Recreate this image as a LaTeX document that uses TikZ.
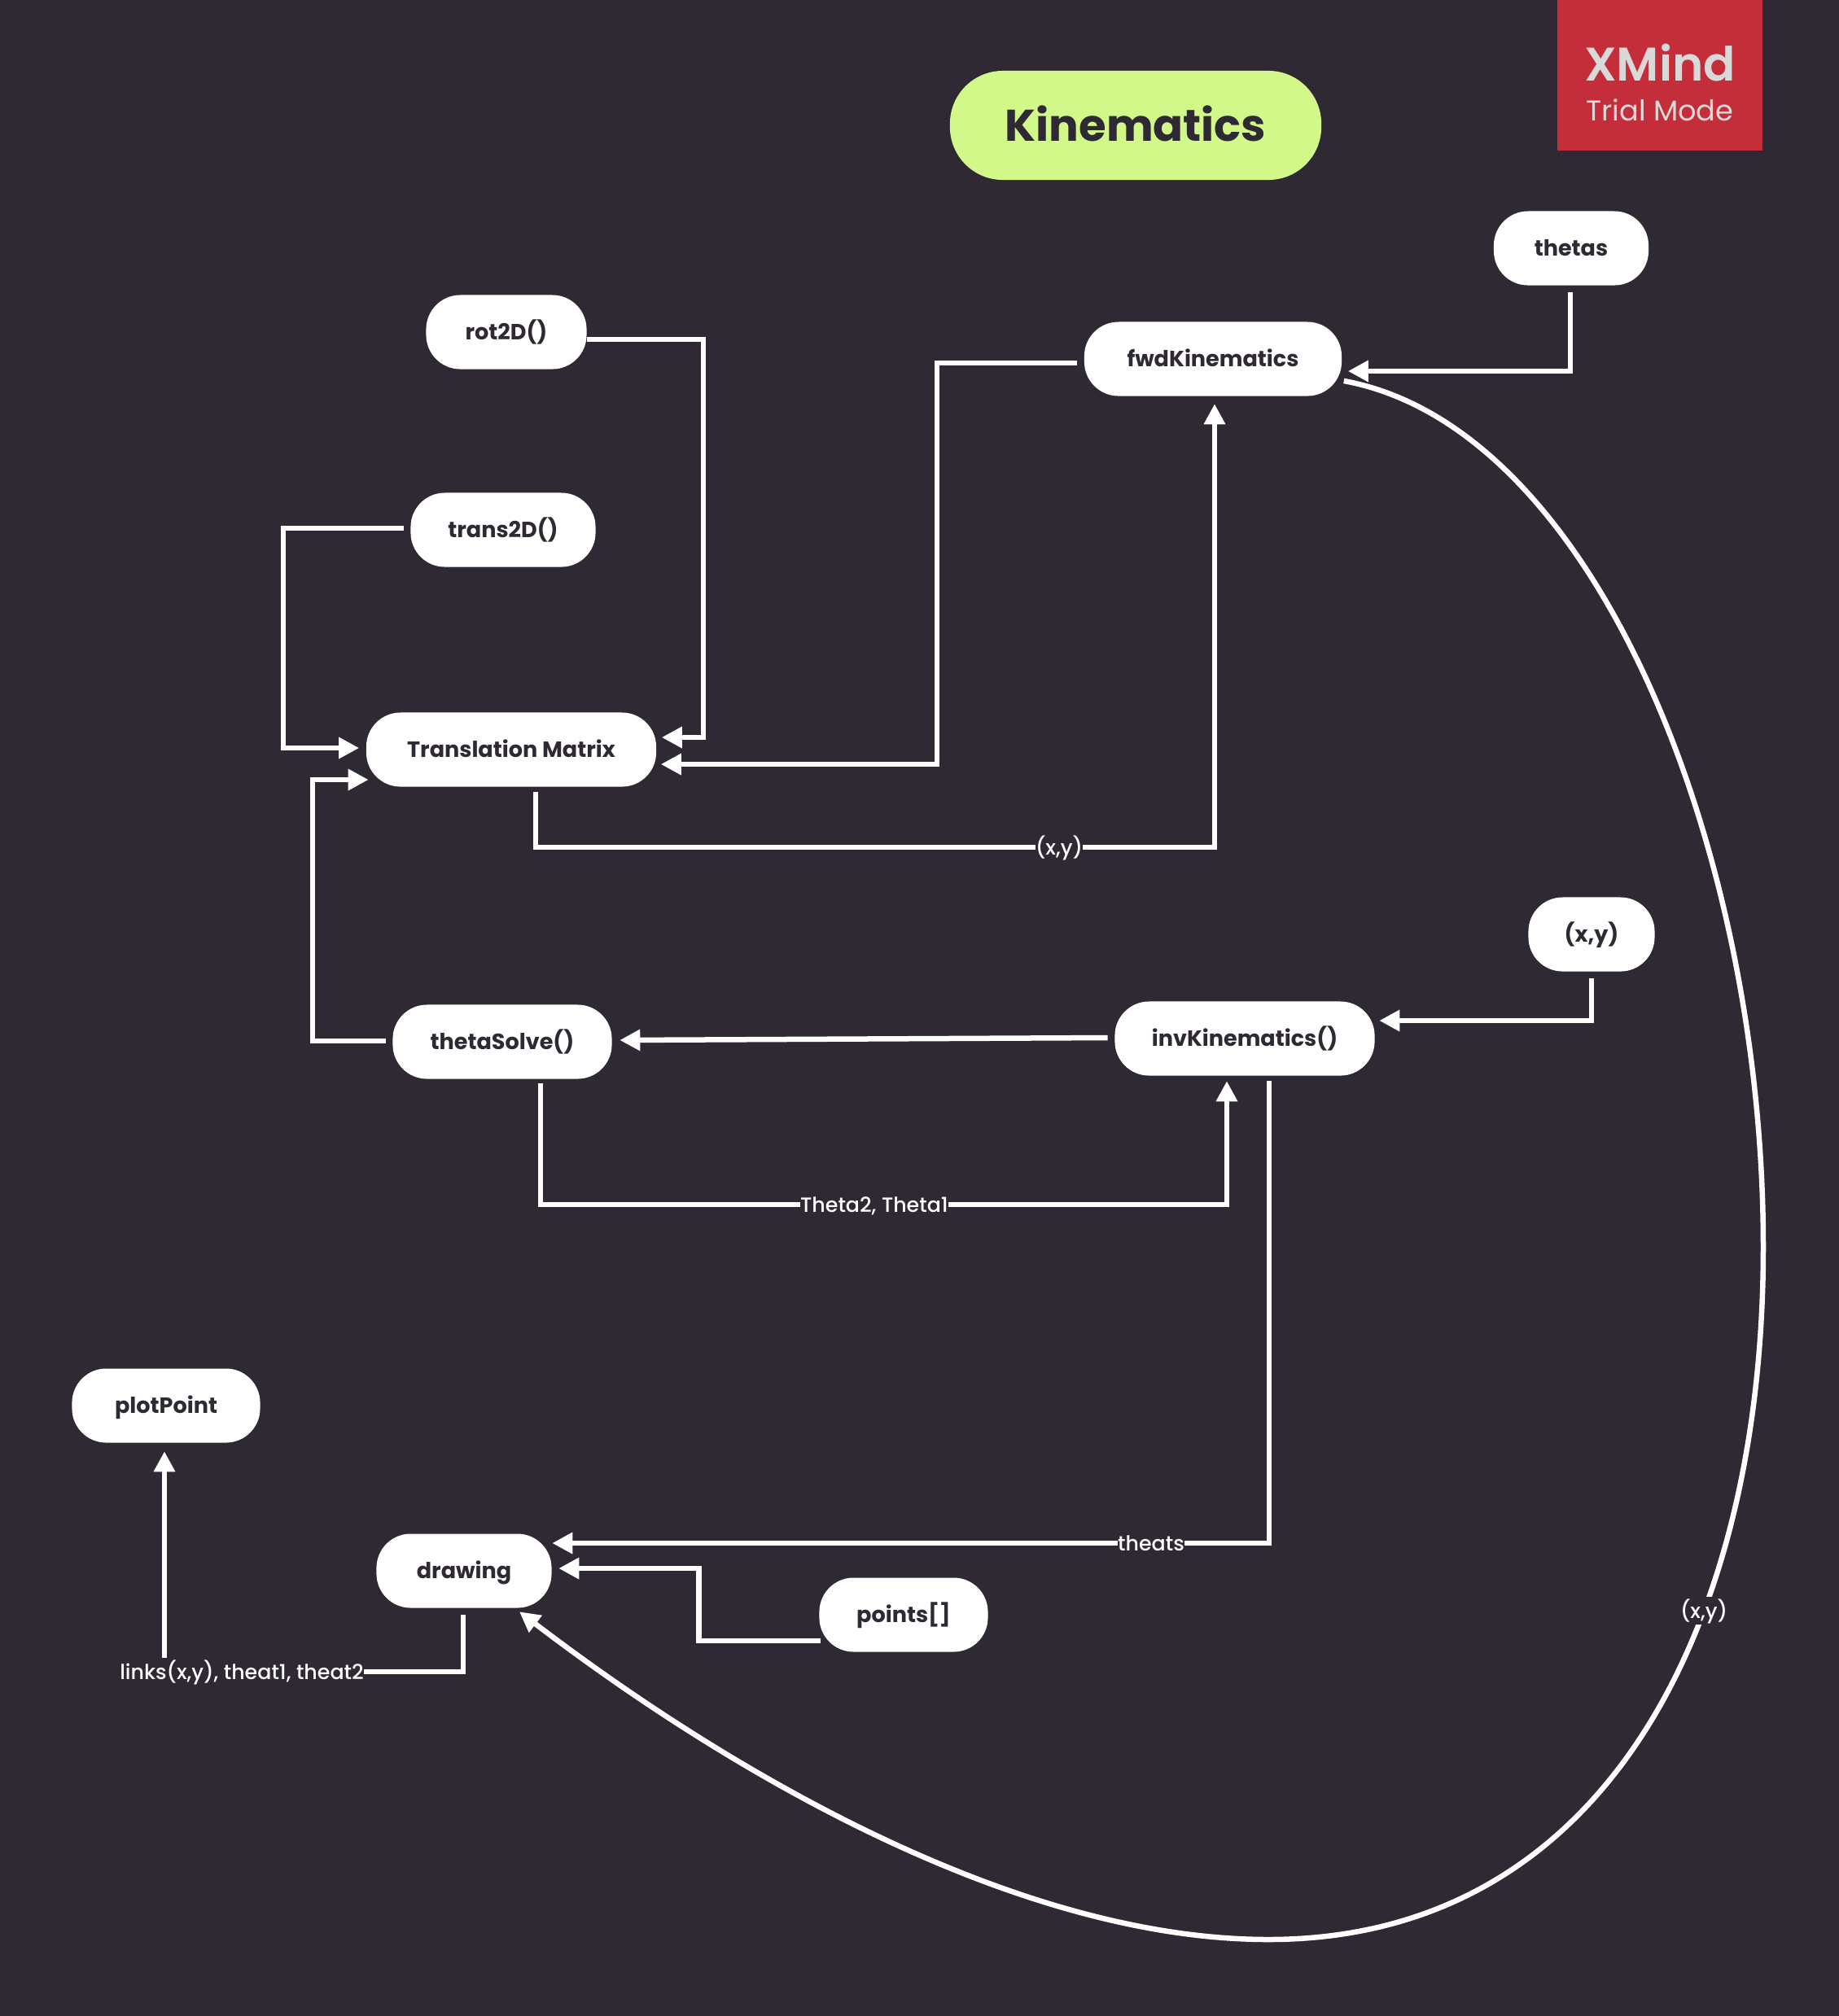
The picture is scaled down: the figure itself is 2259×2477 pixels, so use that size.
\documentclass[tikz,border=0pt]{standalone}
\usepackage{fontspec}
\setmainfont{Poppins}
\newfontfamily\medfont{Poppins Medium}
\newfontfamily\semifont{Poppins SemiBold}
\usetikzlibrary{arrows.meta, positioning, calc}
\definecolor{mybg}{RGB}{47,41,51}
\definecolor{mygreen}{RGB}{210,248,137}
\definecolor{myred}{RGB}{196,46,58}
\definecolor{mygrey}{RGB}{217,217,217}
\tikzset{
  topic/.style={rectangle, fill=white, text=mybg, minimum height=0.91cm,
    inner sep=0pt, text height=0.28cm, text depth=0.10cm,
    font=\fontsize{7.7}{9}\selectfont\bfseries, rounded corners=0.42cm},
  titlebox/.style={rectangle, fill=mygreen, text=mybg, minimum width=4.56cm,
    minimum height=1.34cm, inner sep=0pt, text height=0.50cm, text depth=0.12cm,
    font=\fontsize{15.5}{20}\selectfont\bfseries, rounded corners=0.65cm},
  trialbox/.style={rectangle, fill=myred, minimum width=2.52cm, minimum height=1.85cm},
  linkarrow/.style={-{Triangle[length=0.25cm,width=0.25cm]}, line width=0.065cm, color=white},
  edgelabel/.style={fill=mybg, text=white, inner xsep=0pt, inner ysep=0.85pt,
    text height=6.7pt, text depth=1.3pt, font=\fontsize{7.2}{8}\medfont}
}
\begin{document}
\begin{tikzpicture}[x=0.01cm,y=-0.01cm]
  \useasboundingbox (0,0) rectangle (2259,2477);
  \fill[mybg] (0,0) rectangle (2259,2477);

  % Title and trial mark
  \node[titlebox] (title) at (1395,154) {Kinematics};
  \node[trialbox] (trial) at (2039,92.5) {};
  \node[text=mygrey, inner sep=0pt, font=\fontsize{16.5}{18}\semifont] (trialname) at (2039,77) {XMind};
  \node[text=mygrey, inner sep=0pt, font=\fontsize{10}{12}\selectfont] (trialmode) at (2039,135) {Trial Mode};

  % Topics
  \node[topic, minimum width=1.90cm] (thetas) at (1930,305) {thetas};
  \node[topic, minimum width=3.16cm] (fwdkin) at (1490,441) {fwdKinematics};
  \node[topic, minimum width=1.97cm] (rottwod) at (622,408) {rot2D()};
  \node[topic, minimum width=2.27cm] (transtwod) at (618,651) {trans2D()};
  \node[topic, minimum width=3.56cm] (transmat) at (628,921) {Translation Matrix};
  \node[topic, minimum width=2.69cm] (thetasolve) at (617,1280) {thetaSolve()};
  \node[topic, minimum width=3.19cm] (invkin) at (1529,1276) {invKinematics()};
  \node[topic, minimum width=1.55cm] (xyinput) at (1955,1148) {(x,y)};
  \node[topic, minimum width=2.31cm] (plotpoint) at (204,1727) {plotPoint};
  \node[topic, minimum width=2.15cm] (drawing) at (570,1930) {drawing};
  \node[topic, minimum width=2.07cm] (points) at (1110,1984) {points[]};

  % Label positions on the connectors
  \coordinate (xyrun) at (1301,1041);
  \coordinate (thetarun) at (1074,1480);
  \coordinate (theatsrun) at (1414,1896);
  \coordinate (linksrun) at (297,2054);
  \coordinate (curverun) at (2093,1979);

  % Into the translation matrix
  \draw[linkarrow] ([shift={(0,9)}]rottwod.east) -| ([shift={(57,-15)}]transmat.east) -- ([shift={(6,-15)}]transmat.east);
  \draw[linkarrow] ([shift={(-8,5)}]fwdkin.west) -| ([shift={(344,18)}]transmat.east) -- ([shift={(5,18)}]transmat.east);
  \draw[linkarrow] ([shift={(-8,-2)}]transtwod.west) -| ([shift={(-101,-2)}]transmat.west) -- ([shift={(-8,-2)}]transmat.west);
  \draw[linkarrow] ([shift={(-8,-1)}]thetasolve.west) -| ([shift={(-65,37)}]transmat.west) -- ([shift={(3.5,37)}]transmat.west);

  % Forward side
  \draw[linkarrow] ([shift={(30,6)}]transmat.south) |- (xyrun) -| ([shift={(2,9)}]fwdkin.south);
  \draw[linkarrow] ([shift={(-1,8)}]thetas.south) |- ([shift={(7,15)}]fwdkin.east);
  \draw[linkarrow] ([shift={(2,27)}]fwdkin.east)
    .. controls (1960,525) and (2166,1045) .. (2166,1532)
    .. controls (2166,2000) and (1970,2383) .. (1558,2383)
    .. controls (1250,2383) and (900,2180) .. ([shift={(68,4)}]drawing.south);

  % Inverse side
  \draw[linkarrow] ([shift={(-8,-1)}]invkin.west) -- ([shift={(9,-2)}]thetasolve.east);
  \draw[linkarrow] ([shift={(0,8)}]xyinput.south) |- ([shift={(5,-22)}]invkin.east);
  \draw[linkarrow] ([shift={(47,5)}]thetasolve.south) |- (thetarun) -| ([shift={(-22,6)}]invkin.south);
  \draw[linkarrow] ([shift={(30,6)}]invkin.south) |- (theatsrun) -- ([shift={(0,-34)}]drawing.east);

  % Drawing side
  \draw[linkarrow] ([shift={(2,32)}]points.west) -| ([shift={(180,-3)}]drawing.east) -- ([shift={(8,-3)}]drawing.east);
  \draw[linkarrow] ([shift={(-1,8)}]drawing.south) |- (linksrun) -| ([shift={(-2,10)}]plotpoint.south);

  % Connector labels
  \node[edgelabel] (xylabel) at (xyrun) {(x,y)};
  \node[edgelabel] (thetalabel) at (thetarun) {Theta2, Theta1};
  \node[edgelabel] (theatslabel) at (theatsrun) {theats};
  \node[edgelabel] (linkslabel) at (linksrun) {links(x,y), theat1, theat2};
  \node[edgelabel] (curvelabel) at (curverun) {(x,y)};
\end{tikzpicture}
\end{document}
